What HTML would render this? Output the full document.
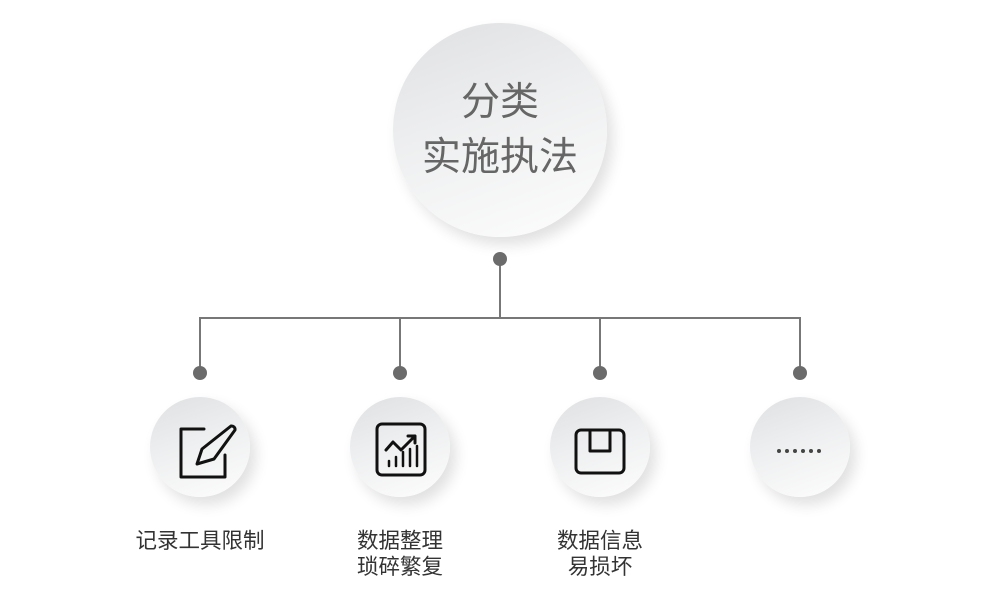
<!DOCTYPE html>
<html><head><meta charset="utf-8"><style>
body{margin:0;width:1000px;height:600px;background:#fff;overflow:hidden;position:relative;font-family:"Liberation Sans","Noto Sans CJK SC",sans-serif}
.c{position:absolute;border-radius:50%;background:linear-gradient(160deg,#dfe0e2 0%,#eeeff0 45%,#fdfdfd 100%);box-shadow:6px 8px 14px rgba(0,0,0,0.12)}
.t{position:absolute;text-align:center;color:#333;font-size:21.5px;line-height:26px;width:200px}
</style></head><body>
<div class="c" style="left:393px;top:23px;width:214px;height:214px"></div>
<div style="position:absolute;left:343px;top:75px;width:314px;text-align:center;color:#666;font-size:39px;line-height:55px">分类<br>实施执法</div>
<svg width="1000" height="600" style="position:absolute;left:0;top:0">
<g stroke="#777" stroke-width="2" fill="none">
<line x1="500" y1="259" x2="500" y2="318"/>
<line x1="199" y1="318" x2="801" y2="318"/>
<line x1="200" y1="317" x2="200" y2="373"/><line x1="400" y1="317" x2="400" y2="373"/>
<line x1="600" y1="317" x2="600" y2="373"/><line x1="800" y1="317" x2="800" y2="373"/>
</g>
<g fill="#6b6b6b"><circle cx="500" cy="259" r="7"/><circle cx="200" cy="373" r="7"/><circle cx="400" cy="373" r="7"/><circle cx="600" cy="373" r="7"/><circle cx="800" cy="373" r="7"/></g>
</svg>
<div class="c" style="left:150px;top:397px;width:100px;height:100px"></div>
<div class="c" style="left:350px;top:397px;width:100px;height:100px"></div>
<div class="c" style="left:550px;top:397px;width:100px;height:100px"></div>
<div class="c" style="left:750px;top:397px;width:100px;height:100px"></div>
<svg width="1000" height="600" style="position:absolute;left:0;top:0">
<g stroke="#111" stroke-width="3" fill="none" stroke-linejoin="round" stroke-linecap="round">
<path d="M204 429 H181 V477 H225 V455"/>
<path d="M231 426 a3.5 3.5 0 0 1 4 4 L214 459 L197 464 L202 449 Z"/>
<rect x="377" y="424" width="48" height="51" rx="5"/>
<path d="M386 450 L393 442 L401 450 L415 436 M408 436 H415 V443"/>
<path d="M389 466 V461 M396 466 V457 M403 466 V452 M410 466 V449 M417 466 V446" stroke-width="2.5"/>
<rect x="576" y="430" width="48" height="43" rx="5"/>
<path d="M590 430 V451 H610 V430"/>
</g>
<g fill="#444"><circle cx="779" cy="451" r="2"/><circle cx="787" cy="451" r="2"/><circle cx="795" cy="451" r="2"/><circle cx="803" cy="451" r="2"/><circle cx="811" cy="451" r="2"/><circle cx="819" cy="451" r="2"/></g>
</svg>
<div class="t" style="left:100px;top:528px">记录工具限制</div>
<div class="t" style="left:300px;top:528px">数据整理<br>琐碎繁复</div>
<div class="t" style="left:500px;top:528px">数据信息<br>易损坏</div>
</body></html>
